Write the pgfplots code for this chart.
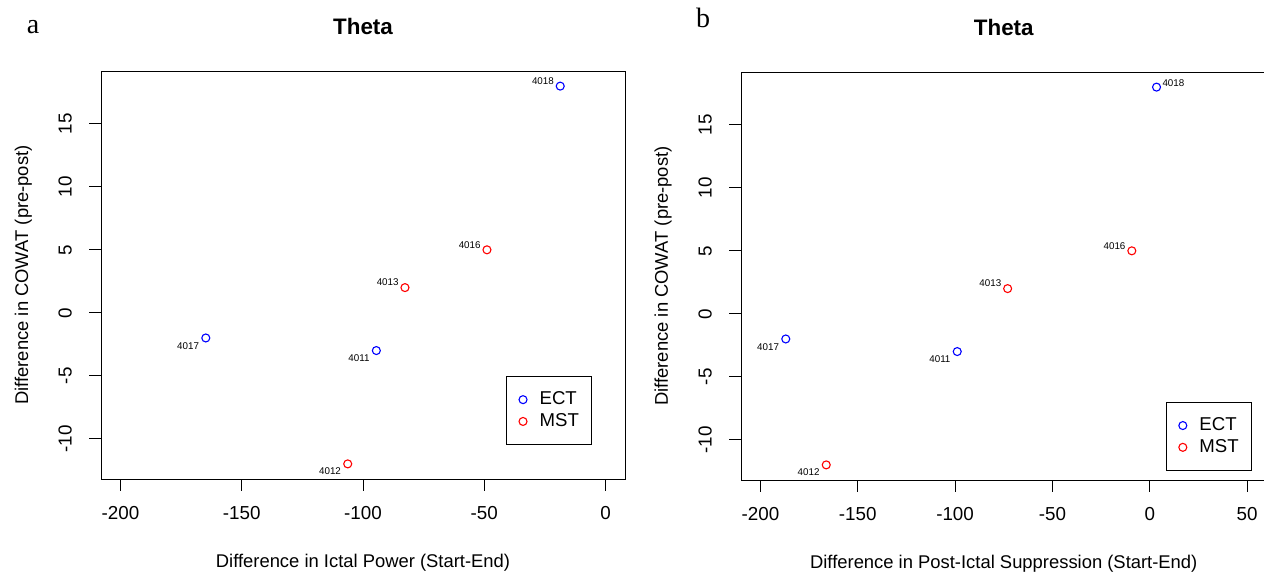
\documentclass[border=0pt]{standalone}
\usepackage{fontspec}
\setmainfont{Liberation Sans}
\newfontfamily\letterfont{Liberation Serif}
\usepackage{pgfplots}
\pgfplotsset{compat=1.18}

\pgfplotsset{
  rpanel/.style={
    scale only axis, height=204pt,
    ymin=-13.2, ymax=19.2,
    ytick={-10,-5,0,5,10,15},
    yticklabels={-10,-5,0,5,10,15},
    axis line style={line width=0.5pt},
    tick style={black, line width=0.5pt},
    tick align=outside, major tick length=5.8pt,
    xtick pos=bottom, ytick pos=left,
    tick label style={font=\fontsize{9.4}{11}\selectfont, inner sep=0pt},
    xticklabel style={anchor=north},
    yticklabel style={rotate=90, anchor=south},
    xticklabel shift=7.6pt, yticklabel shift=8.6pt,
    label style={font=\fontsize{9.2}{11}\selectfont, inner sep=0pt},
    xlabel style={at={(axis description cs:0.5,-0.2181)}, anchor=base},
    ylabel style={at={(axis description cs:-0.1393,0.5)}, anchor=base},
    every axis title shift=0pt,
    title style={font=\bfseries\fontsize{11.2}{13}\selectfont, inner sep=0pt,
                 at={(axis description cs:0.5,1.0907)}, anchor=base},
    title={Theta},
    ylabel={Difference in COWAT (pre-post)},
    legend cell align=left,
    legend image code/.code={\draw[#1] plot coordinates {(0pt,0pt)};},
    legend style={draw=black, line width=0.5pt, anchor=south east,
                  font=\fontsize{9.3}{11}\selectfont,
                  nodes={inner sep=0pt}, inner xsep=6.3pt, inner ysep=7.6pt,
                  column sep=6.3pt, row sep=2.9pt},
  },
  ect/.style={only marks, mark=o, mark size=2pt, draw=blue, mark options={line width=0.55pt, draw=blue}},
  mst/.style={only marks, mark=o, mark size=2pt, draw=red, mark options={line width=0.55pt, draw=red}},
}
\tikzset{
  lblup/.style={font=\fontsize{4.9}{5}\selectfont, inner sep=0pt, anchor=south east, xshift=-3pt, yshift=0.6pt},
  lbldn/.style={font=\fontsize{4.9}{5}\selectfont, inner sep=0pt, anchor=north east, xshift=-3.2pt, yshift=-1.9pt},
  lblrt/.style={font=\fontsize{4.9}{5}\selectfont, inner sep=0pt, anchor=south west, xshift=2.8pt, yshift=0pt},
}

\begin{document}
\begin{tikzpicture}
% panel a
\begin{axis}[rpanel,
  at={(50.5pt,-239.5pt)}, anchor=south west, width=262pt,
  xmin=-208, xmax=8,
  xtick={-200,-150,-100,-50,0},
  xticklabels={-200,-150,-100,-50,0},
  xlabel={Difference in Ictal Power (Start-End)},
  legend style={at={(rel axis cs:0.937,0.083)}},
]
\addplot[ect] coordinates {(-18.7,18) (-164.8,-2) (-94.5,-3)};
\addlegendentry{ECT}
\addplot[mst] coordinates {(-48.9,5) (-82.7,2) (-106.3,-12)};
\addlegendentry{MST}
\node[lblup] at (axis cs:-18.7,18) {4018};
\node[lblup] at (axis cs:-48.9,5) {4016};
\node[lblup] at (axis cs:-82.7,2) {4013};
\node[lbldn] at (axis cs:-164.8,-2) {4017};
\node[lbldn] at (axis cs:-94.5,-3) {4011};
\node[lbldn] at (axis cs:-106.3,-12) {4012};
\end{axis}

% panel b
\begin{axis}[rpanel,
  at={(370.5pt,-240pt)}, anchor=south west, width=262.75pt,
  xmin=-210, xmax=60,
  xtick={-200,-150,-100,-50,0,50},
  xticklabels={-200,-150,-100,-50,0,50},
  xlabel={Difference in Post-Ictal Suppression (Start-End)},
  legend style={at={(rel axis cs:0.972,0.022)}},
]
\addplot[ect] coordinates {(3.5,18) (-187,-2) (-98.9,-3)};
\addlegendentry{ECT}
\addplot[mst] coordinates {(-9.2,5) (-73,2) (-166.2,-12)};
\addlegendentry{MST}
\node[lblrt] at (axis cs:3.5,18) {4018};
\node[lblup] at (axis cs:-9.2,5) {4016};
\node[lblup] at (axis cs:-73,2) {4013};
\node[lbldn] at (axis cs:-187,-2) {4017};
\node[lbldn] at (axis cs:-98.9,-3) {4011};
\node[lbldn] at (axis cs:-166.2,-12) {4012};
\end{axis}

\node[font=\letterfont\fontsize{14}{16}\selectfont, anchor=base, inner sep=0pt] at (16.5pt,-16.5pt) {a};
\node[font=\letterfont\fontsize{14}{16}\selectfont, anchor=base, inner sep=0pt] at (351.5pt,-13.5pt) {b};

\pgfresetboundingbox
\useasboundingbox (0pt,0pt) rectangle (632pt,-286.5pt);
\end{tikzpicture}
\end{document}
